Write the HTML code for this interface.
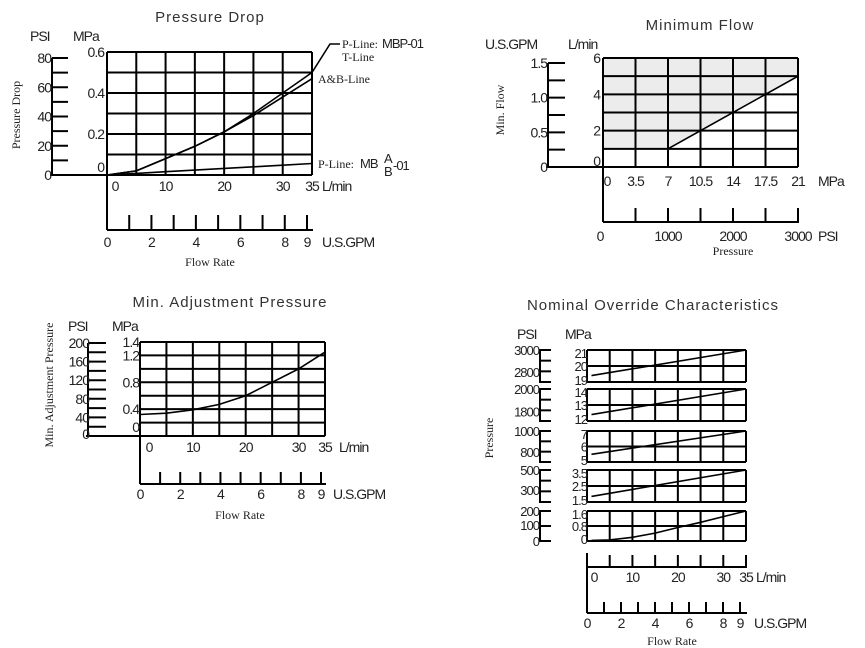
<!DOCTYPE html>
<html><head><meta charset="utf-8"><style>
html,body{margin:0;padding:0;background:#fff;}
svg{display:block;}
text{font-family:"Liberation Sans",sans-serif;fill:#222;}
.t{font-size:15px;letter-spacing:1px;fill:#333;}
.n{font-size:14px;letter-spacing:-1px;}
.m{font-size:13px;letter-spacing:-1px;}
.s{font-family:"Liberation Serif",serif;font-size:12px;}
</style></head><body>
<svg id="c" width="865" height="648" viewBox="0 0 865 648" xmlns="http://www.w3.org/2000/svg"></svg>
<script>
// ---- data ----
const pdFlow=[0,5,10,15,20,25,30,35];
const pdPLine=[0,0.02,0.08,0.14,0.21,0.30,0.40,0.50];
const pdABLine=[0,0.02,0.08,0.14,0.21,0.29,0.38,0.47];
const pdMBABLine=[0,0.008,0.016,0.024,0.032,0.04,0.048,0.056];
const mfPressure=[7,21];
const mfFlow=[1,5];
const maFlow=[0,5,10,15,20,25,30,35];
const maPressure=[0.32,0.34,0.39,0.47,0.6,0.8,1.0,1.25];
const noFlow=[1,35];
const noP1=[19.4,21];
const noP2=[12.4,14];
const noP3=[5.5,7];
const noP4=[1.85,3.5];
const noFlow5=[1,5,10,15,20,25,30,35];
const noP5=[0.03,0.06,0.2,0.42,0.72,1.0,1.3,1.6];

const NS="http://www.w3.org/2000/svg";
const svg=document.getElementById('c');
function sc(d0,d1,r0,r1){return v=>r0+(v-d0)/(d1-d0)*(r1-r0);}
function mk(tag,attrs,name){const e=document.createElementNS(NS,tag);for(const k in attrs)e.setAttribute(k,attrs[k]);


svg.appendChild(e);return e;}
function ln(x1,y1,x2,y2,w,name){return mk('line',{x1,y1,x2,y2,stroke:'#000','stroke-width':w||2},name||'grid-line');}
function tx(x,y,s,cls,anchor,name,rot){const e=mk('text',{x,y,class:cls||'n','text-anchor':anchor||'start'},name||'label');if(rot)e.setAttribute('transform','rotate(-90 '+x+' '+y+')');e.textContent=s;return e;}
function pl(xs,ys,X,Y,name){const pts=xs.map((v,i)=>X(v).toFixed(1)+','+Y(ys[i]).toFixed(1)).join(' ');return mk('polyline',{points:pts,fill:'none',stroke:'#000','stroke-width':1.6},name);}

// ---- Chart 1: Pressure Drop ----
(function(){
const X=sc(0,35,107,312),Y=sc(0,0.6,175,52),Yp=sc(0,80,175,58),G=sc(0,9,107,307);
tx(210,22,'Pressure Drop','t','middle','pd-title');
tx(30,41,'PSI','n','start','pd-psi-unit');tx(73,41,'MPa','n','start','pd-mpa-unit');
tx(20,115,'Pressure Drop','s','middle','pd-y-axis-title',true);
for(let v=0;v<=35;v+=5)ln(X(v),Y(0.6),X(v),Y(0),2,'pd-vgrid');
for(let v=0;v<=0.6001;v+=0.1)ln(X(0),Y(v),X(35),Y(v),2,'pd-hgrid');
ln(52,Yp(80),52,175,2,'pd-psi-axis');ln(50,175,107,175,2,'pd-baseline');
for(let v=10;v<=80;v+=10)ln(52,Yp(v),68,Yp(v),2,'pd-psi-tick');
[80,60,40,20,0].forEach(v=>tx(51,Yp(v)+5,String(v),'n','end','pd-psi-tick-label'));
[0.6,0.4,0.2].forEach(v=>tx(104,Y(v)+5,String(v),'n','end','pd-mpa-tick-label'));
tx(104,172,'0','n','end','pd-mpa-tick-label');
[0,10,20,30,35].forEach(v=>tx(X(v)+(v===0?8:0),191,String(v),'n','middle','pd-lmin-tick-label'));
tx(322,191,'L/min','n','start','pd-lmin-unit');
ln(107,175,107,230,2,'pd-gpm-axis');ln(107,230,313,230,2,'pd-gpm-baseline');
for(let v=1;v<=9;v++)ln(G(v),230,G(v),215,2,'pd-gpm-tick');
[0,2,4,6,8,9].forEach(v=>tx(G(v),247,String(v),'n','middle','pd-gpm-tick-label'));
tx(322,247,'U.S.GPM','n','start','pd-gpm-unit');
tx(210,266,'Flow Rate','s','middle','pd-x-axis-title');
pl(pdFlow,pdPLine,X,Y,'pd-p-line-mbp01');
pl(pdFlow,pdABLine,X,Y,'pd-ab-line');
pl(pdFlow,pdMBABLine,X,Y,'pd-p-line-mbab01');
mk('polyline',{points:X(35)+','+Y(0.5)+' 330,44 340,44',fill:'none',stroke:'#000','stroke-width':1.6},'pd-leader-line');
tx(342,48,'P-Line: ','s','start','pd-legend-p-line');tx(382,48,'MBP-01','m','start','pd-legend-mbp01');
tx(342,61,'T-Line','s','start','pd-legend-t-line');
tx(318,83,'A&B-Line','s','start','pd-legend-ab-line');
tx(318,168,'P-Line:','s','start','pd-legend-p-line2');tx(360,168,'MB','m','start','pd-legend-mb');
tx(384,163,'A','m','start','pd-legend-a');tx(384,176,'B','m','start','pd-legend-b');tx(393,170,'-01','m','start','pd-legend-01');
})();

// ---- Chart 2: Minimum Flow ----
(function(){
const X=sc(0,21,603,798),Y=sc(0,6,167,58),Yg=sc(0,1.5,167,63),Xp=sc(0,3000,603,798);
tx(700,30,'Minimum Flow','t','middle','mf-title');
tx(485,49,'U.S.GPM','n','start','mf-gpm-unit');tx(568,49,'L/min','n','start','mf-lmin-unit');
tx(504,110,'Min. Flow','s','middle','mf-y-axis-title',true);
mk('polygon',{points:[X(0)+','+Y(6),X(21)+','+Y(6),X(21)+','+Y(5),X(mfPressure[1])+','+Y(mfFlow[1]),X(mfPressure[0])+','+Y(mfFlow[0]),X(0)+','+Y(1)].join(' '),fill:'#ececec'},'mf-shaded-region');
for(let v=0;v<=21;v+=3.5)ln(X(v),Y(6),X(v),Y(0),2,'mf-vgrid');
for(let v=0;v<=6;v++)ln(X(0),Y(v),X(21),Y(v),2,'mf-hgrid');
pl(mfPressure,mfFlow,X,Y,'mf-min-flow-line');
ln(548,Yg(1.5),548,167,2,'mf-gpm-axis');ln(546,167,603,167,2,'mf-baseline');
for(let v=0.25;v<=1.5;v+=0.25)ln(548,Yg(v),565,Yg(v),2,'mf-gpm-tick');
[1.5,1.0,0.5,0].forEach(v=>tx(547,Yg(v)+5,v===0?'0':v.toFixed(1),'n','end','mf-gpm-tick-label'));
[6,4,2].forEach(v=>tx(600,Y(v)+5,String(v),'n','end','mf-lmin-tick-label'));tx(600,166,'0','n','end','mf-lmin-tick-label');
[0,3.5,7,10.5,14,17.5,21].forEach(v=>tx(X(v)+(v===0?4:0),186,String(v),'n','middle','mf-mpa-tick-label'));
tx(818,186,'MPa','n','start','mf-mpa-unit');
ln(603,167,603,222,2,'mf-psi-axis');ln(603,222,799,222,2,'mf-psi-baseline');
for(let v=500;v<=3000;v+=500)ln(Xp(v),222,Xp(v),208,2,'mf-psi-tick');
[0,1000,2000,3000].forEach(v=>tx(v===0?600:Xp(v),241,String(v),'n','middle','mf-psi-tick-label'));
tx(818,241,'PSI','n','start','mf-psi-unit');
tx(733,255,'Pressure','s','middle','mf-x-axis-title');
})();

// ---- Chart 3: Min. Adjustment Pressure ----
(function(){
const X=sc(0,35,140,325),Y=sc(0,1.4,436,342),Yp=sc(0,200,436,343),G=sc(0,9,140,321);
tx(230,307,'Min. Adjustment Pressure','t','middle','ma-title');
tx(68,331,'PSI','n','start','ma-psi-unit');tx(112,331,'MPa','n','start','ma-mpa-unit');
tx(53,385,'Min. Adjustment Pressure','s','middle','ma-y-axis-title',true);
for(let v=0;v<=35;v+=5)ln(X(v),Y(1.4),X(v),Y(0),2,'ma-vgrid');
for(let v=0;v<=1.4001;v+=0.2)ln(X(0),Y(v),X(35),Y(v),2,'ma-hgrid');
ln(88,Yp(200),88,436,2,'ma-psi-axis');ln(86,436,140,436,2,'ma-baseline');
for(let v=20;v<=200;v+=20)ln(88,Yp(v),106,Yp(v),2,'ma-psi-tick');
[200,160,120,80,40,0].forEach(v=>tx(89,Yp(v)+(v===0?3:5),String(v),'n','end','ma-psi-tick-label'));
[1.4,1.2,0.8,0.4].forEach(v=>tx(139,Y(v)+5,String(v),'n','end','ma-mpa-tick-label'));tx(139,432,'0','n','end','ma-mpa-tick-label');
[0,10,20,30,35].forEach(v=>tx(X(v)+(v===0?9:0),452,String(v),'n','middle','ma-lmin-tick-label'));
tx(339,452,'L/min','n','start','ma-lmin-unit');
ln(140,436,140,484,2,'ma-gpm-axis');ln(140,484,326,484,2,'ma-gpm-baseline');
for(let v=1;v<=9;v++)ln(G(v),484,G(v),472,2,'ma-gpm-tick');
[0,2,4,6,8,9].forEach(v=>tx(G(v),499,String(v),'n','middle','ma-gpm-tick-label'));
tx(333,499,'U.S.GPM','n','start','ma-gpm-unit');
tx(240,519,'Flow Rate','s','middle','ma-x-axis-title');
pl(maFlow,maPressure,X,Y,'ma-pressure-curve');
})();

// ---- Chart 4: Nominal Override ----
(function(){
const X=sc(0,35,587,746),G=sc(0,9,587,740);
tx(653,310,'Nominal Override Characteristics','t','middle','no-title');
tx(517,339,'PSI','n','start','no-psi-unit');tx(565,339,'MPa','n','start','no-mpa-unit');
tx(493,438,'Pressure','s','middle','no-y-axis-title',true);
const tops=[350,389,431,470,511],bots=[382,421,462,502,541];
const ranges=[[19,21],[12,14],[5,7],[1.5,3.5],[0,1.6]];
const mpaLab=[['21','20','19'],['14','13','12'],['7','6','5'],['3.5','2.5','1.5'],['1.6','0.8','0']];
const psiLab=[[['3000',0],['2800',0.68]],[['2000',0],['1800',0.7]],[['1000',0],['800',0.68]],[['500',0],['300',0.62]],[['200',0],['100',0.47],['0',1]]];
const series=[noP1,noP2,noP3,noP4,noP5];
for(let i=0;i<5;i++){
 const t=tops[i],b=bots[i],Y=sc(ranges[i][0],ranges[i][1],b,t),m=(t+b)/2;
 for(let v=0;v<=35;v+=5)ln(X(v),t,X(v),b,2,'no-vgrid');
 [t,m,b].forEach(y=>ln(587,y,746,y,2,'no-hgrid'));
 ln(540,t-1,540,b+1,2,'no-psi-axis');
 const ticks=i===4?[0,0.5,1]:[0,1/3,2/3,1];
 ticks.forEach(f=>ln(540,t+f*(b-t),551,t+f*(b-t),2,'no-psi-tick'));
 tx(587,t+8,mpaLab[i][0],'m','end','no-mpa-tick-label');
 tx(587,m+5,mpaLab[i][1],'m','end','no-mpa-tick-label');
 tx(587,b+3,mpaLab[i][2],'m','end','no-mpa-tick-label');
 psiLab[i].forEach(p=>tx(539,t+p[1]*(b-t)+5,p[0],'m','end','no-psi-tick-label'));
 if(i<4)pl(noFlow,series[i],X,Y,'no-override-line-'+(i+1));
 else pl(noFlow5,noP5,X,Y,'no-override-line-5');
}
ln(587,553,587,567,2,'no-lmin-axis');ln(587,567,747,567,2,'no-lmin-baseline');
for(let v=5;v<=35;v+=5)ln(X(v),567,X(v),555,2,'no-lmin-tick');
[0,10,20,30,35].forEach(v=>tx(X(v)+(v===0?7:0),582,String(v),'n','middle','no-lmin-tick-label'));
tx(756,582,'L/min','n','start','no-lmin-unit');
ln(587,567,587,613,2,'no-gpm-axis');ln(587,613,747,613,2,'no-gpm-baseline');
for(let v=1;v<=9;v++)ln(G(v),613,G(v),602,2,'no-gpm-tick');
[0,2,4,6,8,9].forEach(v=>tx(G(v),628,String(v),'n','middle','no-gpm-tick-label'));
tx(754,628,'U.S.GPM','n','start','no-gpm-unit');
tx(672,645,'Flow Rate','s','middle','no-x-axis-title');
})();
</script>
</body></html>
